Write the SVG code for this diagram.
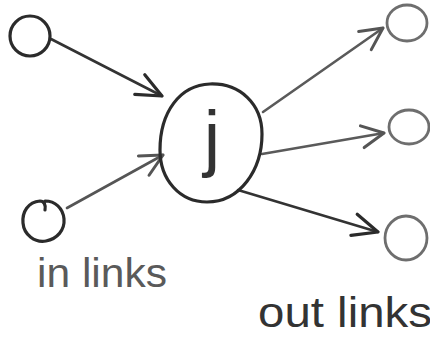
<svg xmlns="http://www.w3.org/2000/svg" width="430" height="337" viewBox="0 0 430 337">
  <style>
    .node { fill: none; stroke-linecap: round; stroke-linejoin: round; }
    .dark { stroke: #2b2b2b; stroke-width: 3.2; }
    .light { stroke: #6e6e6e; stroke-width: 2.8; }
    .link { fill: none; stroke-width: 2.6; stroke-linecap: round; }
    .lbl { font-family: "Liberation Sans", "DejaVu Sans", sans-serif; }
  </style>
  <defs>
    <marker id="headDark" markerUnits="userSpaceOnUse" markerWidth="40" markerHeight="40" viewBox="-30 -20 40 40" refX="0" refY="0" orient="auto">
      <path d="M-25,-11 L0,0 L-25,11" fill="none" stroke="#2b2b2b" stroke-width="3.2" stroke-linecap="round" stroke-linejoin="round"/>
    </marker>
    <marker id="headLight" markerUnits="userSpaceOnUse" markerWidth="40" markerHeight="40" viewBox="-30 -20 40 40" refX="0" refY="0" orient="auto">
      <path d="M-22,-11 L0,0 L-22,11" fill="none" stroke="#555" stroke-width="3" stroke-linecap="round" stroke-linejoin="round"/>
    </marker>
  </defs>
  <rect width="430" height="337" fill="#ffffff"/>

  <g id="connectors">
    <line class="link" x1="51" y1="39" x2="162" y2="96" stroke="#333" marker-end="url(#headDark)"/>
    <line class="link" x1="67" y1="208" x2="163" y2="155" stroke="#555" marker-end="url(#headLight)"/>
    <line class="link" x1="263" y1="112" x2="383" y2="28" stroke="#5a5a5a" marker-end="url(#headLight)"/>
    <line class="link" x1="262" y1="154" x2="384" y2="133" stroke="#5a5a5a" marker-end="url(#headLight)"/>
    <line class="link" x1="238" y1="190" x2="378" y2="232" stroke="#333" marker-end="url(#headDark)"/>
  </g>

  <g id="node-in-top">
    <ellipse class="node dark" cx="30" cy="36" rx="20" ry="20"/>
  </g>
  <g id="node-in-bottom">
    <path class="node dark" d="M45,210 C46,205 44,201 40,201 C28,202 22,212 23,223 C24,235 35,243 46,241 C57,239 65,230 64,219 C63,208 55,201 45,201"/>
  </g>
  <g id="node-j">
    <path class="node dark" d="M210,84 C240,83 262,104 262,134 C262,170 240,202 207,202 C180,202 160,180 160,150 C160,112 180,85 210,84 Z"/>
    <text class="lbl" x="212" y="163" font-size="74" text-anchor="middle" fill="#333">j</text>
  </g>
  <g id="node-out-top">
    <ellipse class="node light" cx="407" cy="23" rx="20" ry="18"/>
  </g>
  <g id="node-out-mid">
    <ellipse class="node light" cx="409" cy="127" rx="20" ry="17"/>
  </g>
  <g id="node-out-bottom">
    <ellipse class="node light" cx="406" cy="238" rx="21" ry="22"/>
  </g>

  <text class="lbl" x="37" y="287" font-size="40" fill="#5a5a5a" textLength="130" lengthAdjust="spacingAndGlyphs">in links</text>
  <text class="lbl" x="258" y="327" font-size="42" fill="#333" textLength="174" lengthAdjust="spacingAndGlyphs">out links</text>
</svg>
